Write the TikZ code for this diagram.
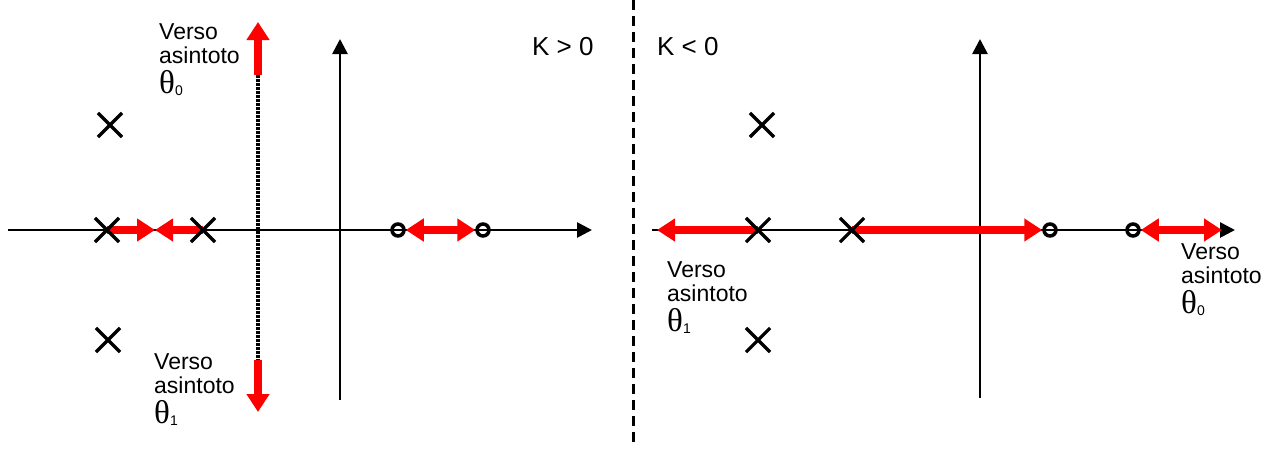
\documentclass[tikz,border=0pt]{standalone}
\usepackage{fontspec}
\setmainfont{Liberation Sans}
\newfontfamily\thetafont{Liberation Serif}
\usetikzlibrary{arrows.meta,shapes.misc}
\tikzset{
  axisline/.style={line width=2.7pt,-{Triangle[length=15pt,width=15pt]}},
  rootloc/.style={line width=8pt,red,-{Triangle[length=18pt,width=22pt]}},
  rootloc2/.style={line width=8pt,red,{Triangle[length=18pt,width=22pt]}-{Triangle[length=18pt,width=22pt]}},
  polemark/.style={cross out,draw,line width=3.2pt,minimum size=21pt,inner sep=0pt},
  zeromark/.style={circle,draw,line width=3.5pt,minimum size=12pt,inner sep=0pt},
  asylabel/.style={align=left,anchor=north west,inner sep=0pt,font=\fontsize{23}{24}\selectfont},
  klabel/.style={anchor=base west,inner sep=0pt,font=\fontsize{26}{28}\selectfont},
}
\newcommand{\thsub}[1]{{\thetafont\fontsize{33}{33}\selectfont θ}\raisebox{-2pt}{\fontsize{14}{14}\selectfont #1}}
\begin{document}
\begin{tikzpicture}[x=1pt,y=-1pt]
\useasboundingbox (0,0) rectangle (1270,448);
% ---------- left panel ----------
\coordinate (lxs) at (8,230);
\coordinate (lxe) at (592,230);
\coordinate (lys) at (340,400);
\coordinate (lye) at (340,39);
\draw[axisline] (lxs) -- (lxe);
\draw[axisline] (lys) -- (lye);
\coordinate (lp1) at (110,125);
\coordinate (lp2) at (107,230);
\coordinate (lp3) at (203,230);
\coordinate (lp4) at (108,340);
\node[zeromark] (lz1) at (398,230) {};
\node[zeromark] (lz2) at (483,230) {};
\coordinate (lm) at (155,230);
\coordinate (lat) at (258,75);
\coordinate (lab) at (258,360);
\coordinate (latt) at (258,22);
\coordinate (labb) at (258,412);
\draw[line width=3.5pt,dash pattern=on 2.5pt off 1.5pt] (lat) -- (lab);
\draw[rootloc] (lp2) -- (lm);
\draw[rootloc] (lp3) -- (lm);
\draw[rootloc2] (lz1) -- (lz2);
\draw[rootloc] (lat) -- (latt);
\draw[rootloc] (lab) -- (labb);
\node[polemark] at (lp1) {};
\node[polemark] at (lp2) {};
\node[polemark] at (lp3) {};
\node[polemark] at (lp4) {};
\node[asylabel] (lt0) at (159,23.5) {Verso\\asintoto\\[6pt]\thsub{0}};
\node[asylabel] (lt1) at (154,353.5) {Verso\\asintoto\\[6pt]\thsub{1}};
\node[klabel] (kpos) at (532,55) {K > 0};
% ---------- divider ----------
\coordinate (dvt) at (633,0);
\coordinate (dvb) at (633,448);
\draw[line width=3pt,dash pattern=on 10pt off 6pt] (dvt) -- (dvb);
% ---------- right panel ----------
\coordinate (rxs) at (652,230);
\coordinate (rxe) at (1235,230);
\coordinate (rys) at (980,398);
\coordinate (rye) at (980,39);
\draw[axisline] (rxs) -- (rxe);
\draw[axisline] (rys) -- (rye);
\coordinate (rp1) at (762,125);
\coordinate (rp2) at (758,230);
\coordinate (rp3) at (852,230);
\coordinate (rp4) at (758,340);
\node[zeromark] (rz1) at (1050,230) {};
\node[zeromark] (rz2) at (1133,230) {};
\coordinate (rl) at (657,230);
\coordinate (rr) at (1222,230);
\draw[rootloc] (rp2) -- (rl);
\draw[rootloc] (rp3) -- (rz1);
\draw[rootloc2] (rz2) -- (rr);
\node[polemark] at (rp1) {};
\node[polemark] at (rp2) {};
\node[polemark] at (rp3) {};
\node[polemark] at (rp4) {};
\node[klabel] (kneg) at (657,55) {K < 0};
\node[asylabel] (rt1) at (667,261.5) {Verso\\asintoto\\[6pt]\thsub{1}};
\node[asylabel] (rt0) at (1181,243.5) {Verso\\asintoto\\[6pt]\thsub{0}};
\end{tikzpicture}
\end{document}
